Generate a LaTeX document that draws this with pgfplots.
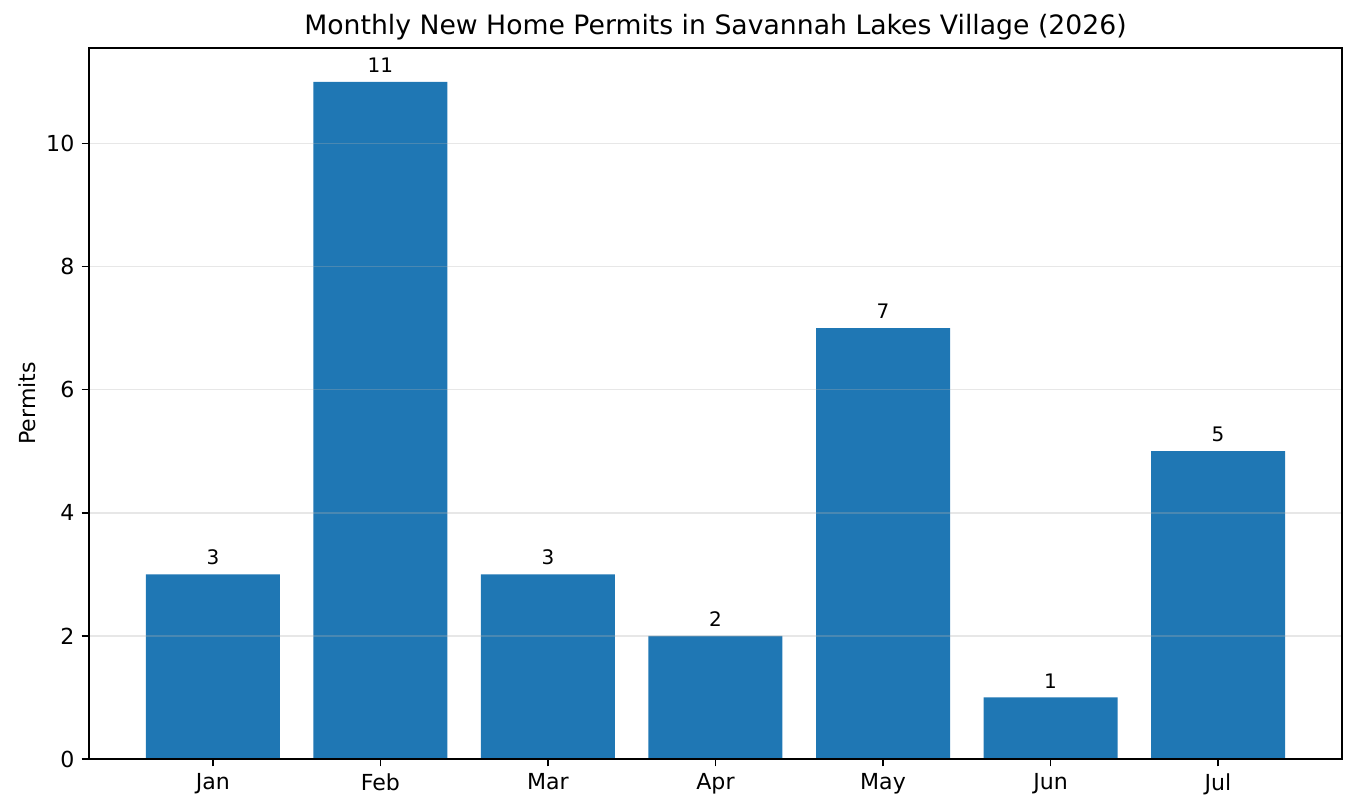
\documentclass[border=0pt]{standalone}
\usepackage{pgfplots}
\pgfplotsset{compat=1.18}
\usepackage{fontspec}
\setmainfont{DejaVu Sans}
\definecolor{barblue}{HTML}{1F77B4}
\begin{document}
\begin{tikzpicture}
\begin{axis}[
  scale only axis,
  width=601.4pt, height=341.3pt,
  xmin=-0.74, xmax=6.74,
  ymin=0, ymax=11.55,
  xtick={0,1,2,3,4,5,6},
  xticklabels={Jan,Feb,Mar,Apr,May,Jun,Jul},
  ytick={0,2,4,6,8,10},
  /pgf/number format/assume math mode=true,
  tick label style={font=\fontsize{10.6pt}{12pt}\selectfont, color=black},
  tick align=outside,
  major tick length=3.5pt,
  xtick pos=bottom, ytick pos=left,
  tick style={black, line width=0.8pt},
  axis line style={black, line width=0.8pt},
  ymajorgrids,
  grid style={color={rgb,255:red,176;green,176;blue,176}, opacity=0.3, line width=0.8pt},
  axis on top,
  title={Monthly New Home Permits in Savannah Lakes Village (2026)},
  title style={font=\fontsize{12.8pt}{15pt}\selectfont, yshift=-6pt},
  ylabel={Permits},
  ylabel style={font=\fontsize{10.6pt}{12pt}\selectfont, yshift=-2pt},
  clip=false,
  ybar, bar width=0.8, bar shift=0pt,
  nodes near coords,
  nodes near coords style={font=\fontsize{9.6pt}{11pt}\selectfont, color=black, yshift=1pt},
  point meta=explicit symbolic,
]
\addplot[fill=barblue, draw=none] coordinates {
(0,3) [3] (1,11) [11] (2,3) [3] (3,2) [2] (4,7) [7] (5,1) [1] (6,5) [5]
};
\path ([xshift=-42.7pt,yshift=-25pt]rel axis cs:0,0) rectangle ([xshift=7.2pt,yshift=23pt]rel axis cs:1,1);
\end{axis}
\end{tikzpicture}
\end{document}
